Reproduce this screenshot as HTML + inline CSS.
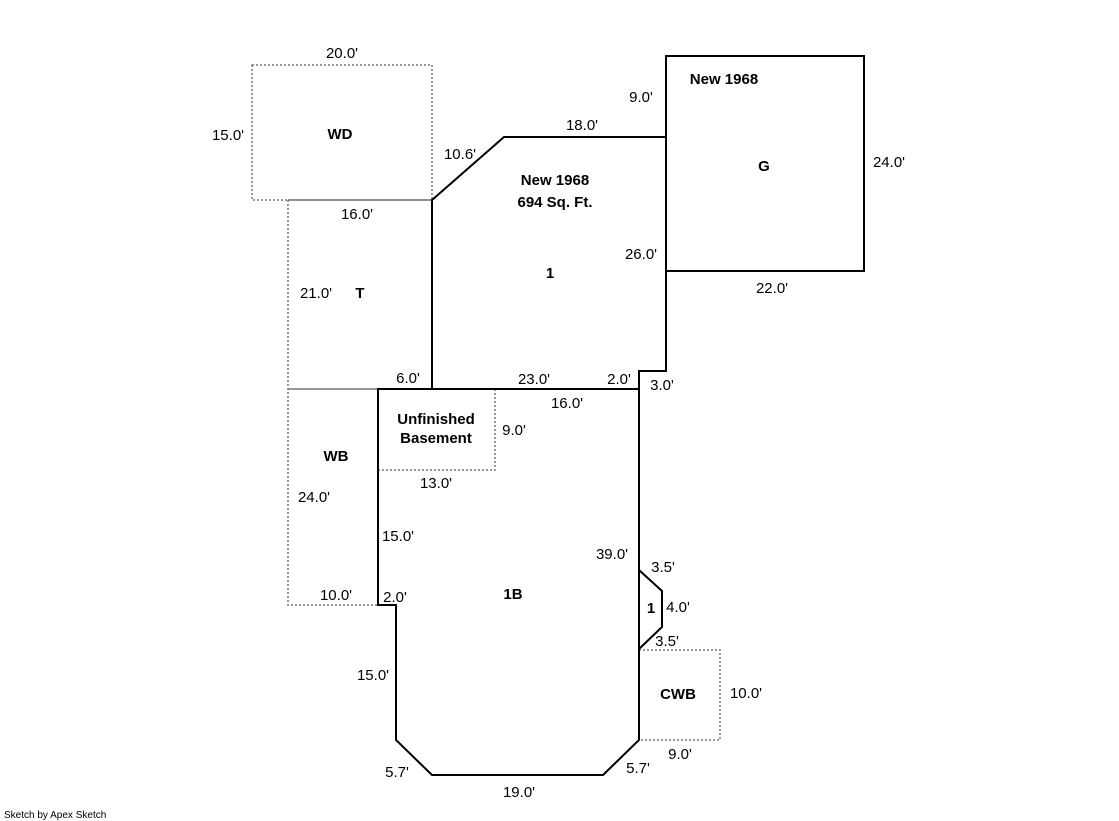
<!DOCTYPE html>
<html><head><meta charset="utf-8"><style>
html,body{margin:0;padding:0;background:#fff;}
svg{display:block;}
text{font-family:"Liberation Sans",Arial,sans-serif;font-size:15px;fill:#000;}
.b{font-weight:bold;}
</style></head><body>
<svg width="1119" height="821" viewBox="0 0 1119 821" xmlns="http://www.w3.org/2000/svg">
<g fill="none" stroke="#777" stroke-width="1.5" stroke-dasharray="2,2">
<rect x="252" y="65" width="180" height="135"/>
<polyline points="288,200 288,605 378,605"/>
<polyline points="378,470 495,470 495,389"/>
<polyline points="639,650 720,650 720,740 639,740"/>
</g>
<g fill="none" stroke="#777" stroke-width="1.5">
<line x1="288" y1="200" x2="432" y2="200"/>
<line x1="288" y1="389" x2="378" y2="389"/>
</g>
<g fill="none" stroke="#000" stroke-width="2">
<polygon points="432,200 504,137 666,137 666,371 639,371 639,389 432,389"/>
<rect x="666" y="56" width="198" height="215"/>
<polygon points="378,389 639,389 639,740 603,775 432,775 396,740 396,605 378,605"/>
<polyline points="639,570 662,591 662,627 639,649"/>
</g>
<g text-anchor="middle">
<text x="342" y="58">20.0'</text>
<text x="228" y="140">15.0'</text>
<text x="340" y="139" class="b">WD</text>
<text x="460" y="159">10.6'</text>
<text x="582" y="130">18.0'</text>
<text x="641" y="102">9.0'</text>
<text x="724" y="84" class="b">New 1968</text>
<text x="764" y="171" class="b">G</text>
<text x="889" y="167">24.0'</text>
<text x="555" y="185" class="b">New 1968</text>
<text x="555" y="207" class="b">694 Sq. Ft.</text>
<text x="357" y="219">16.0'</text>
<text x="641" y="259">26.0'</text>
<text x="772" y="293">22.0'</text>
<text x="550" y="278" class="b">1</text>
<text x="316" y="298">21.0'</text>
<text x="360" y="298" class="b">T</text>
<text x="408" y="383">6.0'</text>
<text x="534" y="384">23.0'</text>
<text x="619" y="384">2.0'</text>
<text x="662" y="390">3.0'</text>
<text x="567" y="408">16.0'</text>
<text x="436" y="424" class="b">Unfinished</text>
<text x="436" y="443" class="b">Basement</text>
<text x="514" y="435">9.0'</text>
<text x="336" y="461" class="b">WB</text>
<text x="436" y="488">13.0'</text>
<text x="314" y="502">24.0'</text>
<text x="398" y="541">15.0'</text>
<text x="612" y="559">39.0'</text>
<text x="663" y="572">3.5'</text>
<text x="336" y="600">10.0'</text>
<text x="395" y="602">2.0'</text>
<text x="513" y="599" class="b">1B</text>
<text x="651" y="613" class="b">1</text>
<text x="678" y="612">4.0'</text>
<text x="667" y="646">3.5'</text>
<text x="373" y="680">15.0'</text>
<text x="678" y="699" class="b">CWB</text>
<text x="746" y="698">10.0'</text>
<text x="680" y="759">9.0'</text>
<text x="397" y="777">5.7'</text>
<text x="638" y="773">5.7'</text>
<text x="519" y="797">19.0'</text>
</g>
<text x="4" y="818" style="font-size:10px">Sketch by Apex Sketch</text>
</svg>
</body></html>
